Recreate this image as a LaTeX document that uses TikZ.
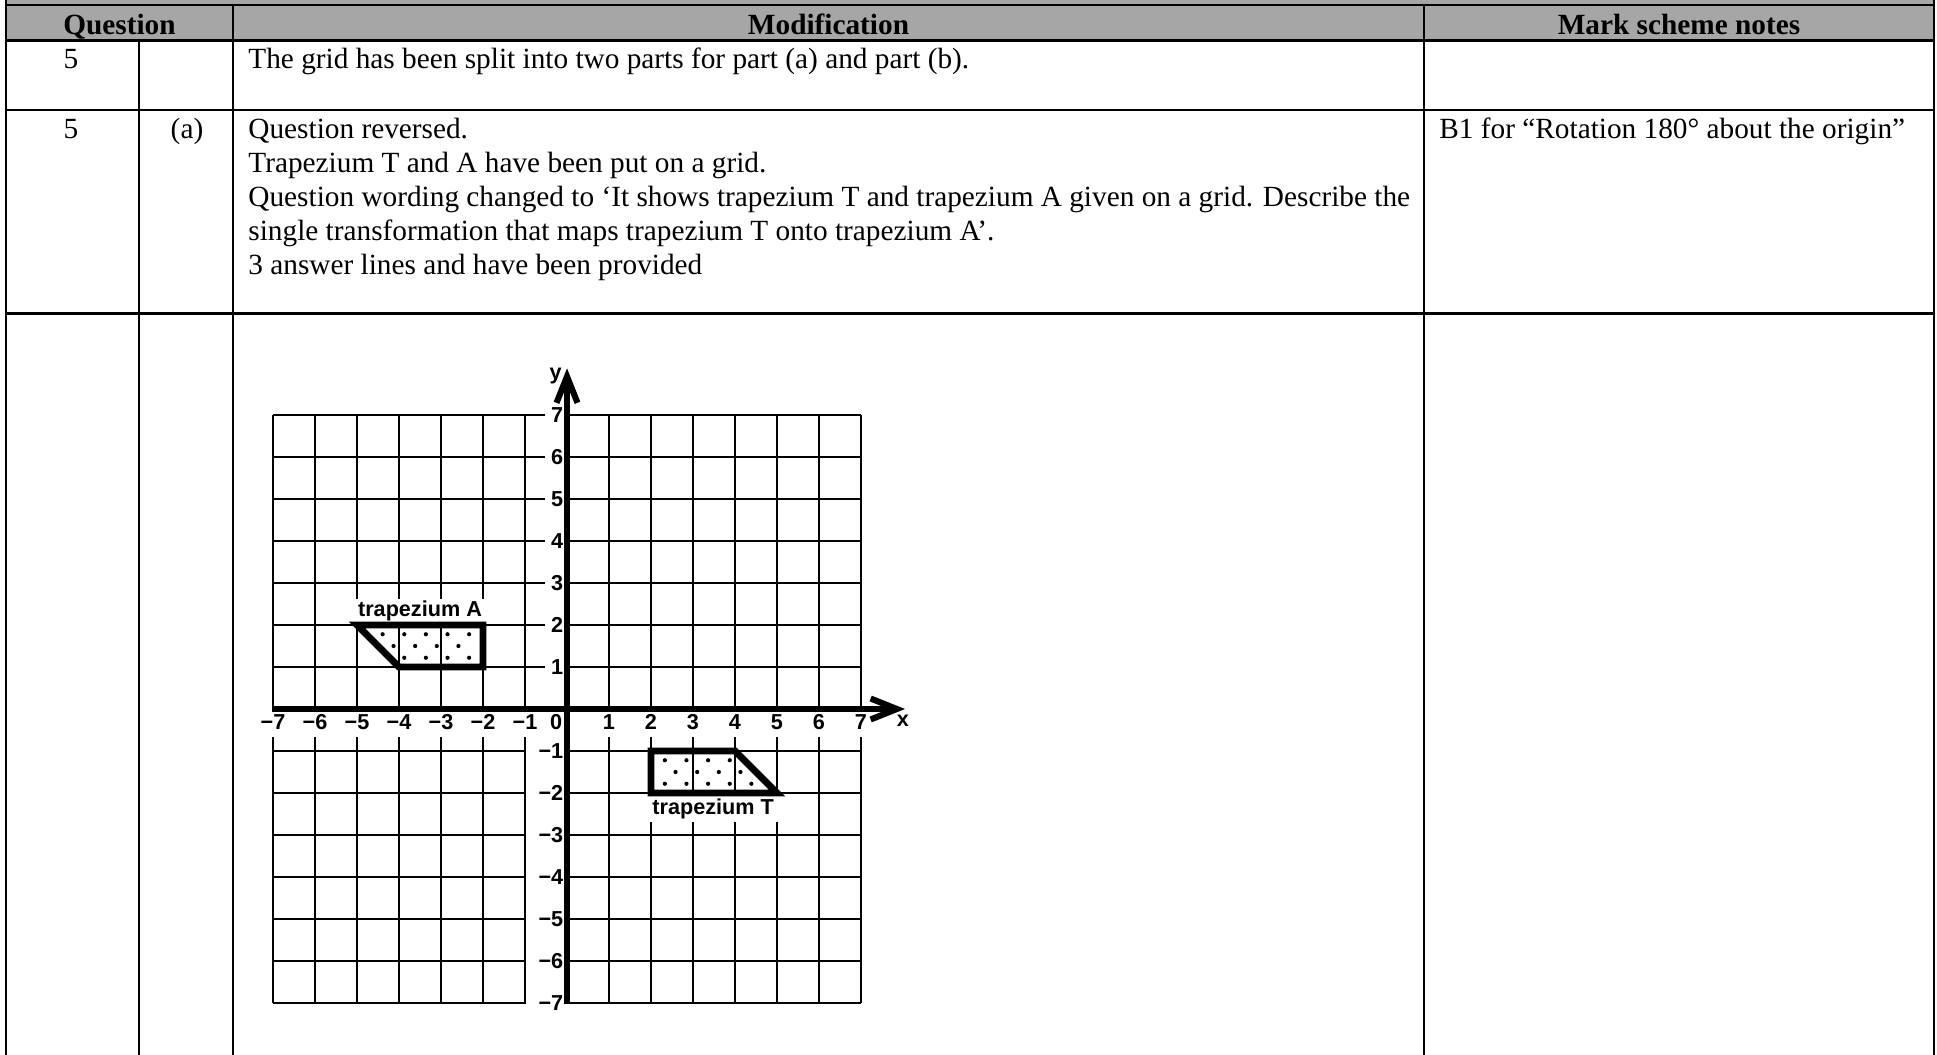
\documentclass[tikz,border=0pt]{standalone}
\usepackage{fontspec}
\setmainfont{Liberation Serif}
\newfontfamily\gridfont{Liberation Sans}
\usetikzlibrary{arrows.meta}
\definecolor{hdrgray}{RGB}{166,166,166}
\tikzset{
  tabline/.style={line width=1.24pt},
  celltext/.style={anchor=base west, inner sep=0pt, font=\fontsize{13.95}{16.3}\selectfont},
  cellmid/.style={anchor=base, inner sep=0pt, font=\fontsize{13.95}{16.3}\selectfont},
  headtext/.style={anchor=base, inner sep=0pt, font=\fontsize{13.95}{16.3}\selectfont\bfseries},
  gridline/.style={line width=1.15pt},
  axisline/.style={line width=2.9pt},
  ticklab/.style={font=\gridfont\bfseries\fontsize{10.3}{12}\selectfont, inner sep=0pt},
  trapline/.style={line width=3.2pt, line join=miter},
  gapfill/.style={fill=white},
}
\begin{document}
\begin{tikzpicture}[x=0.4762pt, y=-0.4762pt]
\useasboundingbox (0,0) rectangle (1937,1055);
\fill[white] (0,0) rectangle (1937,1055);
\fill[hdrgray] (6,0) rectangle (1934,40.7);
% table rules
\draw[tabline] (6,5) -- (1934,5);
\draw[tabline] (6,40.7) -- (1934,40.7);
\draw[tabline] (6,110) -- (1934,110);
\draw[tabline] (6,313.5) -- (1934,313.5);
\draw[tabline] (6,0) -- (6,1055);
\draw[tabline] (139,40.7) -- (139,1055);
\draw[tabline] (233,5) -- (233,1055);
\draw[tabline] (1424,5) -- (1424,1055);
\draw[tabline] (1934,0) -- (1934,1055);
% header
\node[headtext] (hq) at (119.5,34.5) {Question};
\node[headtext] (hm) at (828.5,34.5) {Modification};
\node[headtext] (hn) at (1679,34.5) {Mark scheme notes};
% row 1
\node[cellmid] (q1) at (71,68) {5};
\node[celltext] (m1) at (248,68) {The grid has been split into two parts for part (a) and part (b).};
% row 2
\node[cellmid] (q2) at (71,138) {5};
\node[cellmid] (p2) at (187,138) {(a)};
\node[celltext] (m2a) at (248,138) {Question reversed.};
\node[celltext] (m2b) at (248,172) {Trapezium T and A have been put on a grid.};
\node[celltext] (m2c) at (248,206) {Question wording changed to ‘It shows trapezium T and trapezium A given on a grid. Describe the};
\node[celltext] (m2d) at (248,240) {single transformation that maps trapezium T onto trapezium A’.};
\node[celltext] (m2e) at (248,274) {3 answer lines and have been provided};
\node[celltext] (n2) at (1439,138) {B1 for “Rotation 180° about the origin”};
% coordinate grid
\begin{scope}[shift={(567,709)}, x=20pt, y=20pt]
  \foreach \i in {-7,...,7} {
    \draw[gridline] (\i,-7) -- (\i,7);
    \draw[gridline] (-7,\i) -- (7,\i);
  }
  % white gaps behind labels
  \fill[gapfill] (-7.3,-0.06) rectangle (7.3,-0.66);
  \fill[gapfill] (-5.05,2.06) rectangle (-1.95,2.62);
  \fill[gapfill] (1.95,-2.07) rectangle (5.05,-2.7);
  \foreach \j in {1,...,7} {
    \fill[gapfill] (-0.52,\j-0.2) rectangle (-0.02,\j+0.2);
    \fill[gapfill] (-0.97,-\j-0.2) rectangle (-0.02,-\j+0.2);
  }
  % dots in trapezium A
  \begin{scope}
    \clip (-5,2) -- (-2,2) -- (-2,1) -- (-4,1) -- cycle;
    \foreach \k in {0,...,5} {
      \fill (-2.33-0.515*\k,1.78) circle (0.05);
      \fill (-2.585-0.515*\k,1.5) circle (0.05);
      \fill (-2.33-0.515*\k,1.22) circle (0.05);
    }
  \end{scope}
  % dots in trapezium T
  \begin{scope}
    \clip (2,-1) -- (4,-1) -- (5,-2) -- (2,-2) -- cycle;
    \foreach \k in {0,...,5} {
      \fill (2.33+0.515*\k,-1.22) circle (0.05);
      \fill (2.585+0.515*\k,-1.5) circle (0.05);
      \fill (2.33+0.515*\k,-1.78) circle (0.05);
    }
  \end{scope}
  \draw[trapline] (-5,2) -- (-2,2) -- (-2,1) -- (-4,1) -- cycle;
  \draw[trapline] (2,-1) -- (4,-1) -- (5,-2) -- (2,-2) -- cycle;
  % axes
  \coordinate (xs) at (-7,0);
  \coordinate (xe) at (8.05,0);
  \coordinate (ys) at (0,-7.03);
  \coordinate (ye) at (0,8.11);
  \draw[axisline, -{Straight Barb[length=12.5pt,width=10pt]}] (xs) -- (xe);
  \draw[axisline, -{Straight Barb[length=12.5pt,width=10pt]}] (ys) -- (ye);
  % tick labels
  \foreach \i in {1,...,7} {
    \node[ticklab] (xn\i) at (-\i,-0.32) {−\i};
    \node[ticklab] (xp\i) at (\i,-0.32) {\i};
    \node[ticklab, anchor=east] (yp\i) at (-0.08,\i) {\i};
    \node[ticklab, anchor=east] (yn\i) at (-0.08,-\i) {−\i};
  }
  \node[ticklab] (x0) at (-0.26,-0.32) {0};
  \node[ticklab, anchor=base] (xlab) at (8.0,-0.42) {x};
  \node[ticklab, anchor=base] (ylab) at (-0.27,7.85) {y};
  \node[ticklab, anchor=base] (labA) at (-3.5,2.2) {trapezium A};
  \node[ticklab, anchor=base] (labT) at (3.48,-2.5) {trapezium T};
\end{scope}
\end{tikzpicture}
\end{document}
